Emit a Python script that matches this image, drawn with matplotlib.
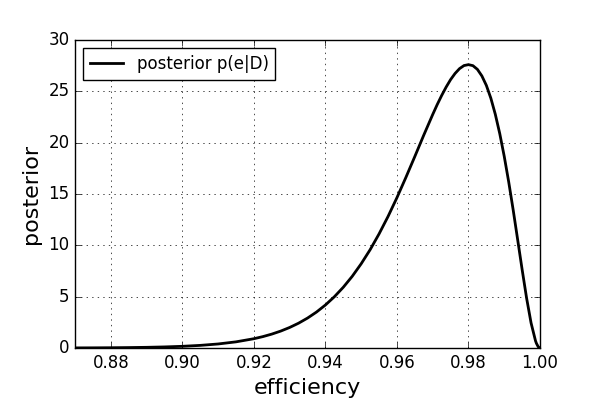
import matplotlib
matplotlib.use("Agg")
import matplotlib.pyplot as plt

plt.style.use("classic")

# posterior values
efficiency = [0.87, 0.875, 0.88, 0.885, 0.89, 0.895, 0.90, 0.905, 0.91, 0.915,
              0.92, 0.9225, 0.925, 0.9275, 0.93, 0.9325, 0.935, 0.9375, 0.94,
              0.9425, 0.945, 0.9475, 0.95, 0.9525, 0.955, 0.9575, 0.96, 0.9625,
              0.965, 0.9675, 0.97, 0.97125, 0.9725, 0.97375, 0.975, 0.97625,
              0.9775, 0.97875, 0.98, 0.98125, 0.9825, 0.98375, 0.985, 0.98625,
              0.9875, 0.98875, 0.99, 0.99125, 0.9925, 0.99375, 0.995, 0.99625,
              0.9975, 0.99875, 0.999, 0.9995, 1.0]
posterior = [0.010, 0.016, 0.026, 0.042, 0.066, 0.105, 0.164, 0.255, 0.392, 0.599,
             0.904, 1.107, 1.352, 1.646, 1.998, 2.416, 2.913, 3.498, 4.186,
             4.988, 5.915, 6.98, 8.20, 9.57, 11.11, 12.80, 14.64, 16.61,
             18.65, 20.73, 22.74, 23.70, 24.59, 25.41, 26.14, 26.74,
             27.21, 27.51, 27.60, 27.50, 27.14, 26.50, 25.58, 24.34,
             22.77, 20.88, 18.67, 16.18, 13.45, 10.56, 7.65, 4.865,
             2.445, 0.691, 0.453, 0.119, 0.0]

fig = plt.figure(figsize=(6, 4), dpi=100, facecolor="white")
ax = fig.add_axes([0.125, 0.13, 0.775, 0.77])

ax.plot(efficiency, posterior, color="black", linewidth=2, label="posterior p(e|D)")

ax.set_xlim(0.87, 1.0)
ax.set_ylim(0, 30)
ax.set_xticks([0.88, 0.90, 0.92, 0.94, 0.96, 0.98, 1.00])
ax.set_yticks([0, 5, 10, 15, 20, 25, 30])
ax.tick_params(labelsize=12)
ax.set_xlabel("efficiency", fontsize=16)
ax.set_ylabel("posterior", fontsize=16)
ax.grid(True)
ax.legend(loc="upper left", fontsize=12, numpoints=1)

fig.savefig("out.png", dpi=100, facecolor="white")
